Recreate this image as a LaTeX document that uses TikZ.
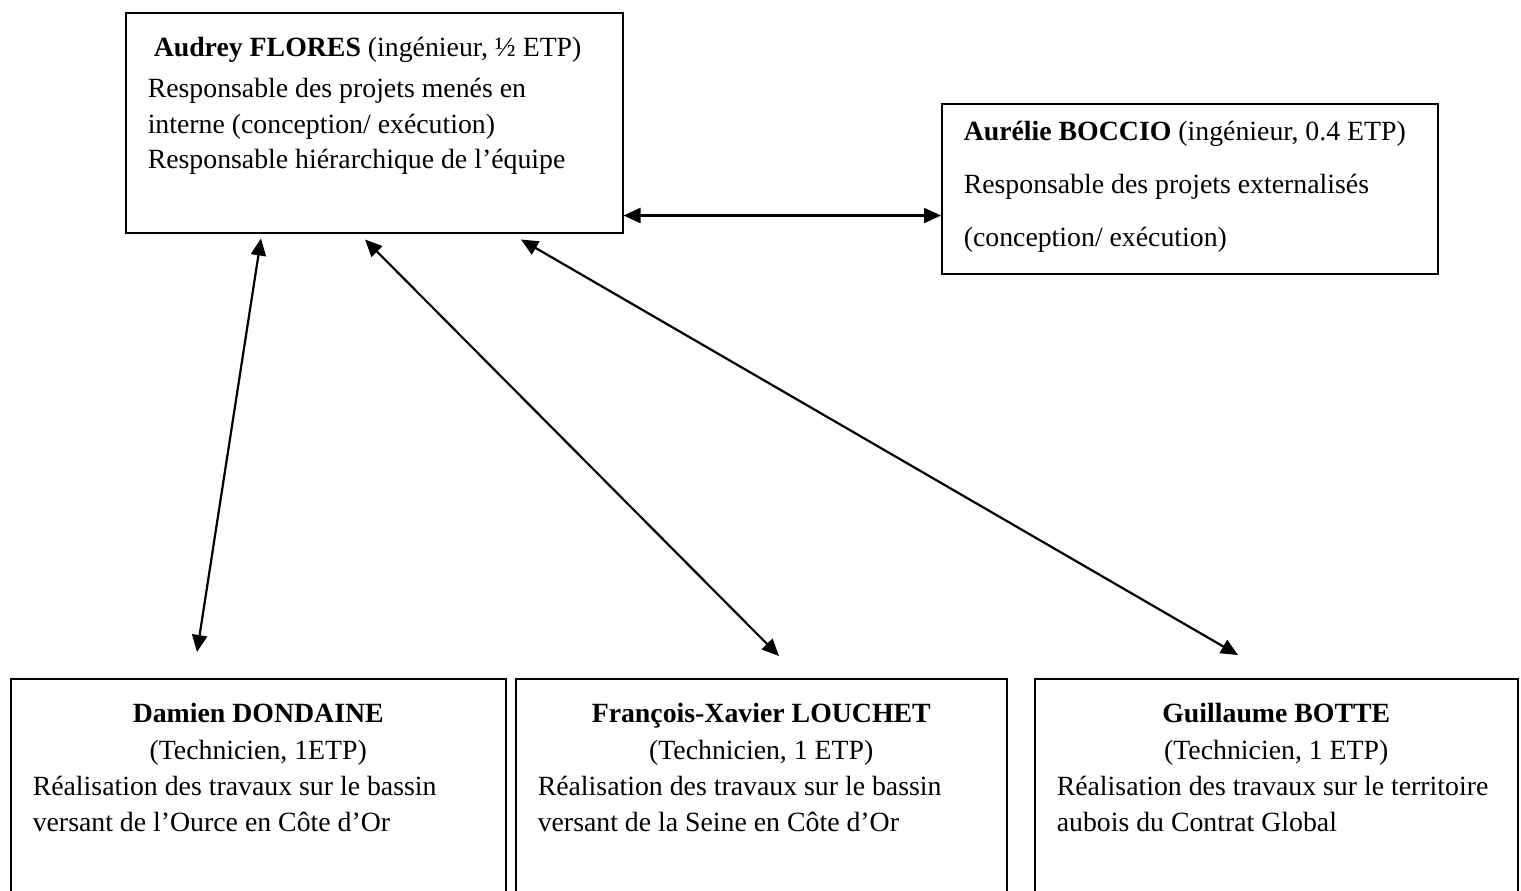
\documentclass[tikz,border=0pt]{standalone}
\usepackage{fontspec}
\setmainfont{Liberation Serif}
\usetikzlibrary{calc,arrows.meta,positioning}
\newcommand{\cadre}[5]{%
  \begin{minipage}[t][#2][t]{#1}%
    \fontsize{13.9pt}{#3}\selectfont\raggedright\leftskip=11pt\parskip=0pt%
    \rule{0pt}{#4}#5%
  \end{minipage}%
}

\begin{document}
\begin{tikzpicture}[%
    x=0.5pt, y=-0.5pt,%
    box/.style={draw=black, line width=0.75pt, inner sep=0pt, anchor=north west},%
    lien/.style={{Triangle[length=8.5pt,width=7.5pt]}-{Triangle[length=8.5pt,width=7.5pt]}, line width=1.1pt}%
  ]
  \useasboundingbox (0,0) rectangle (1521,890);%

  %
  % Ingenieurs
  %
  \node[box] (flores) at (125,12) {\cadre{248.5pt}{110pt}{17.6pt}{22pt}{%
      \hspace*{3pt}\textbf{Audrey FLORES} (ingénieur, ½ ETP)\\[3pt]%
      Responsable des projets menés en\\%
      interne (conception/ exécution)\\%
      Responsable hiérarchique de l’équipe}};%

  \node[box] (boccio) at (941,103) {\cadre{248pt}{85pt}{26.5pt}{18.5pt}{%
      \textbf{Aurélie BOCCIO} (ingénieur, 0.4 ETP)\\%
      Responsable des projets externalisés\\%
      (conception/ exécution)}};%

  %
  % Techniciens
  %
  \node[box] (dondaine) at (10,678) {\cadre{247.5pt}{115pt}{18.2pt}{22pt}{%
      {\centering\textbf{Damien DONDAINE}\\(Technicien, 1ETP)\par}%
      Réalisation des travaux sur le bassin\\%
      versant de l’Ource en Côte d’Or}};%

  \node[box] (louchet) at (515,678) {\cadre{245.5pt}{115pt}{18.2pt}{22pt}{%
      {\centering\textbf{François-Xavier LOUCHET}\\(Technicien, 1 ETP)\par}%
      Réalisation des travaux sur le bassin\\%
      versant de la Seine en Côte d’Or}};%

  \node[box] (botte) at (1034,678) {\cadre{241.5pt}{115pt}{18.2pt}{22pt}{%
      {\centering\textbf{Guillaume BOTTE}\\(Technicien, 1 ETP)\par}%
      Réalisation des travaux sur le territoire\\%
      aubois du Contrat Global}};%

  %
  % Liens
  %
  % Ingenieurs
  \coordinate (fb) at ($(flores.south east)+(0,-18)$);%
  \draw[lien] (fb) -- (fb -| boccio.west);%

  % Techniciens (extremites libres)
  \coordinate (dondaine top) at ($(dondaine.north west)+(187,-26)$);%
  \coordinate (louchet top) at ($(louchet.north west)+(264,-22)$);%
  \coordinate (botte top) at ($(botte.north west)+(204,-23)$);%

  \draw[lien] ($(flores.south west)+(136,5)$) -- (dondaine top);%
  \draw[lien] ($(flores.south west)+(240,6)$) -- (louchet top);%
  \draw[lien] ($(flores.south west)+(396,6)$) -- (botte top);%
\end{tikzpicture}
\end{document}
